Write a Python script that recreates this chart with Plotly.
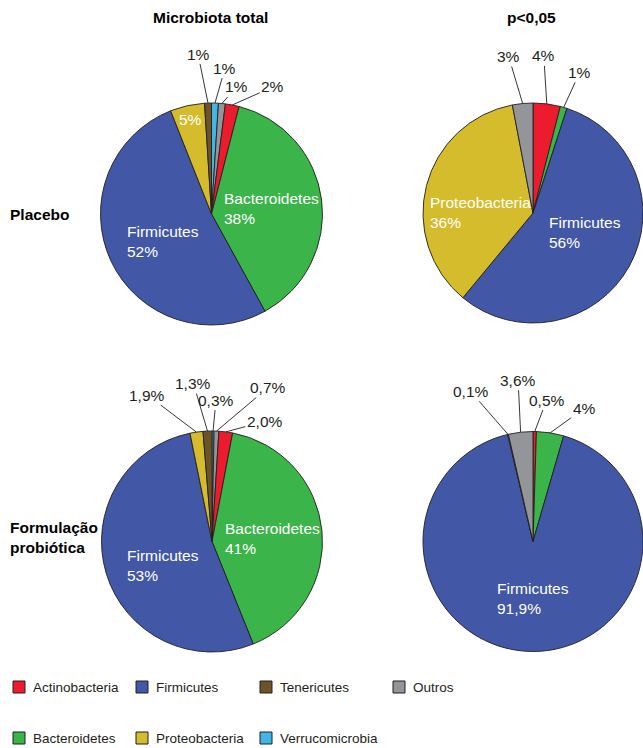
import math
import plotly.graph_objects as go

W, H = 643, 748

# ---------------- data ----------------
legend_order = ["Actinobacteria", "Firmicutes", "Tenericutes", "Outros",
                "Bacteroidetes", "Proteobacteria", "Verrucomicrobia"]

# slices listed clockwise from 12 o'clock
placebo_total_labels = ["Verrucomicrobia", "Outros", "Actinobacteria", "Bacteroidetes",
                        "Firmicutes", "Proteobacteria", "Tenericutes"]
placebo_total_values = [1, 1, 2, 38, 52, 5, 1]
placebo_total_text = ["1%", "1%", "2%", "38%", "52%", "5%", "1%"]

placebo_sig_labels = ["Actinobacteria", "Bacteroidetes", "Firmicutes", "Proteobacteria", "Outros"]
placebo_sig_values = [4, 1, 56, 36, 3]
placebo_sig_text = ["4%", "1%", "56%", "36%", "3%"]

probio_total_labels = ["Verrucomicrobia", "Outros", "Actinobacteria", "Bacteroidetes",
                       "Firmicutes", "Proteobacteria", "Tenericutes"]
probio_total_values = [0.3, 0.7, 2.0, 41, 53, 1.9, 1.3]
probio_total_text = ["0,3%", "0,7%", "2,0%", "41%", "53%", "1,9%", "1,3%"]

probio_sig_labels = ["Actinobacteria", "Bacteroidetes", "Firmicutes", "Proteobacteria", "Outros"]
probio_sig_values = [0.5, 4, 91.9, 0.1, 3.6]
probio_sig_text = ["0,5%", "4%", "91,9%", "0,1%", "3,6%"]

col_titles = ["Microbiota total", "p<0,05"]
row_titles = ["Placebo", "Formulação<br>probiótica"]

# ---------------- styles / layout ----------------
colors = {
    "Actinobacteria": "#EC1C2E",
    "Bacteroidetes": "#3BB44A",
    "Firmicutes": "#4257A6",
    "Proteobacteria": "#D4BC2C",
    "Tenericutes": "#6D5428",
    "Verrucomicrobia": "#41B6E6",
    "Outros": "#939598",
}
FONT = "Liberation Sans, Arial, Helvetica, sans-serif"
EDGE = "#231F20"
LABEL_SIZE = 15.5

pies = [
    dict(labels=placebo_total_labels, values=placebo_total_values, text=placebo_total_text,
         cx=211.5, cy=214, r=111),
    dict(labels=placebo_sig_labels, values=placebo_sig_values, text=placebo_sig_text,
         cx=533, cy=213, r=110),
    dict(labels=probio_total_labels, values=probio_total_values, text=probio_total_text,
         cx=212, cy=541.5, r=110.5),
    dict(labels=probio_sig_labels, values=probio_sig_values, text=probio_sig_text,
         cx=533, cy=541.5, r=110),
]

# inside labels: (pie, label) -> (left offset px, vertical offset px, show name)
inside = {
    (0, "Bacteroidetes"): (10.5, -6, True),
    (0, "Firmicutes"): (-86.5, 28, True),
    (0, "Proteobacteria"): (-34.5, -94, False),
    (1, "Proteobacteria"): (-105, 0, True),
    (1, "Firmicutes"): (13.7, 19.5, True),
    (2, "Bacteroidetes"): (11, -3, True),
    (2, "Firmicutes"): (-87, 24, True),
    (3, "Firmicutes"): (-38, 56.5, True),
}
# outside labels with leader lines: (pie, label) -> text offset from slice edge (px)
outside = {
    (0, "Tenericutes"): (-10, -49),
    (0, "Verrucomicrobia"): (10, -35),
    (0, "Outros"): (14.5, -16.5),
    (0, "Actinobacteria"): (40.5, -18),
    (1, "Actinobacteria"): (-3, -48),
    (1, "Bacteroidetes"): (16, -35),
    (1, "Outros"): (-14, -47),
    (2, "Proteobacteria"): (-49, -37),
    (2, "Tenericutes"): (-14, -47.5),
    (2, "Verrucomicrobia"): (3, -31),
    (2, "Outros"): (51.5, -43.5),
    (2, "Actinobacteria"): (39, -10.5),
    (3, "Proteobacteria"): (-37.5, -43),
    (3, "Outros"): (-2.5, -52),
    (3, "Actinobacteria"): (12, -31.5),
    (3, "Bacteroidetes"): (34, -24.5),
}


def px(x):
    return x / W


def py(y):
    return 1 - y / H


fig = go.Figure()
annotations = []
shapes = []

for i, p in enumerate(pies):
    cx, cy, r = p["cx"], p["cy"], p["r"]
    fig.add_trace(go.Pie(
        labels=p["labels"], values=p["values"], sort=False, direction="clockwise",
        rotation=0, textinfo="none", showlegend=False,
        marker=dict(colors=[colors[l] for l in p["labels"]], line=dict(color=EDGE, width=0.9)),
        domain=dict(x=[px(cx - r), min(1, px(cx + r))], y=[py(cy + r), py(cy - r)]),
        hovertemplate="%{label}: %{text}<extra></extra>", text=p["text"],
    ))
    total = sum(p["values"])
    cum = 0
    for lab, val, txt in zip(p["labels"], p["values"], p["text"]):
        mid = (cum + val / 2) / total * 2 * math.pi
        cum += val
        if (i, lab) in inside:
            dx, dy, show = inside[(i, lab)]
            t = f"{lab}<br>{txt}" if show else txt
            annotations.append(dict(
                x=px(cx + dx), y=py(cy + dy), xref="paper", yref="paper",
                text=t, showarrow=False, xanchor="left", yanchor="middle", align="left",
                font=dict(family=FONT, size=LABEL_SIZE, color="white"),
            ))
        if (i, lab) in outside:
            ax, ay = outside[(i, lab)]
            tx = cx + r * math.sin(mid)
            ty = cy - r * math.cos(mid)
            annotations.append(dict(
                x=px(tx), y=py(ty), xref="paper", yref="paper", text=txt,
                showarrow=True, arrowhead=0, arrowwidth=0.9, arrowcolor=EDGE,
                ax=ax, ay=ay, standoff=0, startstandoff=0,
                font=dict(family=FONT, size=LABEL_SIZE, color="#231F20"),
            ))

# column & row titles
for t, x in zip(col_titles, [210, 531.7]):
    annotations.append(dict(x=px(x), y=py(18), xref="paper", yref="paper", text=f"<b>{t}</b>",
                            showarrow=False, xanchor="center", yanchor="middle",
                            font=dict(family=FONT, size=15.5, color="black")))
for t, y in zip(row_titles, [214, 537]):
    annotations.append(dict(x=px(8), y=py(y), xref="paper", yref="paper", text=f"<b>{t}</b>",
                            showarrow=False, xanchor="left", yanchor="middle", align="left",
                            font=dict(family=FONT, size=15.5, color="black")))

# legend (drawn manually in a 4-column grid)
col_x = [13, 136, 260, 393]
row_y = [687, 738]
for k, lab in enumerate(legend_order):
    x0 = col_x[k % 4]
    yc = row_y[k // 4]
    shapes.append(dict(type="rect", xref="paper", yref="paper",
                       x0=px(x0), x1=px(x0 + 12), y0=py(yc + 6), y1=py(yc - 6),
                       fillcolor=colors[lab], line=dict(color=EDGE, width=1)))
    annotations.append(dict(x=px(x0 + 18), y=py(yc), xref="paper", yref="paper", text=lab,
                            showarrow=False, xanchor="left", yanchor="middle",
                            font=dict(family=FONT, size=13.5, color="#231F20")))

fig.update_layout(
    width=W, height=H, margin=dict(l=0, r=0, t=0, b=0),
    paper_bgcolor="white", plot_bgcolor="white",
    annotations=annotations, shapes=shapes, showlegend=False,
)

fig.write_html("out.html")
